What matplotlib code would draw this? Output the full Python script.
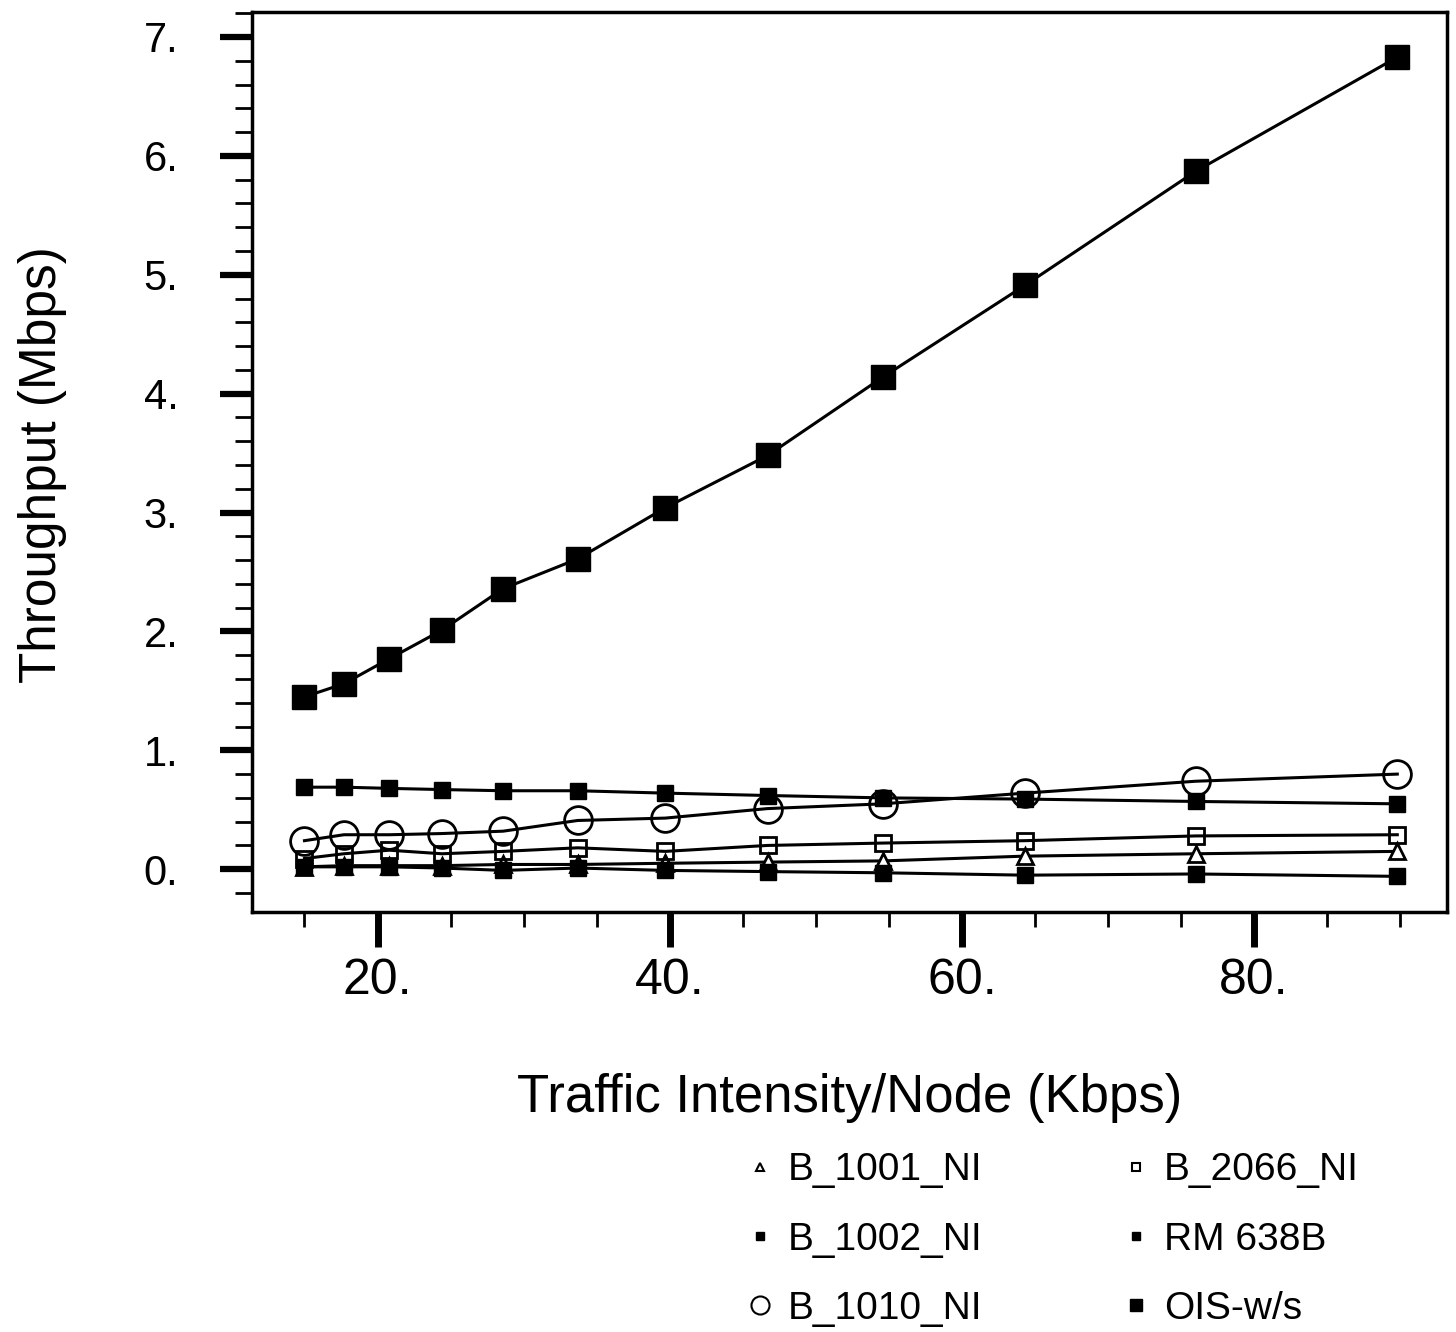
import matplotlib as mpl
mpl.use('Agg')
import matplotlib.pyplot as plt
from matplotlib.ticker import MultipleLocator, FuncFormatter
from matplotlib.lines import Line2D

plt.rcParams['font.family'] = ['Liberation Sans', 'DejaVu Sans']

# traffic intensity per node (Kbps)
traffic = [15.0, 17.7, 20.8, 24.4, 28.6, 33.7, 39.7, 46.7, 54.6, 64.3, 76.0, 89.8]

# throughput (Mbps) for each configuration
b_1001_ni = [0.02, 0.03, 0.03, 0.03, 0.04, 0.04, 0.05, 0.06, 0.07, 0.11, 0.13, 0.15]
b_2066_ni = [0.09, 0.13, 0.16, 0.13, 0.15, 0.18, 0.15, 0.20, 0.22, 0.24, 0.28, 0.29]
b_1002_ni = [0.02, 0.02, 0.02, 0.01, -0.01, 0.01, -0.01, -0.02, -0.03, -0.05, -0.04, -0.06]
rm_638b = [0.69, 0.69, 0.68, 0.67, 0.66, 0.66, 0.64, 0.62, 0.60, 0.59, 0.57, 0.55]
b_1010_ni = [0.24, 0.29, 0.29, 0.30, 0.32, 0.41, 0.43, 0.51, 0.55, 0.64, 0.74, 0.80]
ois_ws = [1.45, 1.56, 1.77, 2.01, 2.36, 2.61, 3.04, 3.48, 4.14, 4.91, 5.87, 6.83]

fig = plt.figure(figsize=(14.56, 13.32), dpi=100)
ax = fig.add_axes([0.173, 0.3153, 0.8208, 0.6757])

lw = 2.2
ax.plot(traffic, b_1001_ni, color='black', lw=lw, marker='^', ms=11,
        mfc='white', mec='black', mew=2)
ax.plot(traffic, b_2066_ni, color='black', lw=lw, marker='s', ms=11,
        fillstyle='none', mec='black', mew=2)
ax.plot(traffic, b_1002_ni, color='black', lw=lw, marker='s', ms=11,
        mfc='black', mec='black')
ax.plot(traffic, rm_638b, color='black', lw=lw, marker='s', ms=11,
        mfc='black', mec='black')
ax.plot(traffic, b_1010_ni, color='black', lw=lw, marker='o', ms=20,
        fillstyle='none', mec='black', mew=2)
ax.plot(traffic, ois_ws, color='black', lw=lw, marker='s', ms=17,
        mfc='black', mec='black')

ax.set_xlim(11.4, 93.2)
ax.set_ylim(-0.36, 7.21)

ax.set_xticks([20, 40, 60, 80])
ax.set_yticks(range(0, 8))
ax.xaxis.set_minor_locator(MultipleLocator(5))
ax.yaxis.set_minor_locator(MultipleLocator(0.2))
fmt = FuncFormatter(lambda v, p: '%d.' % round(v))
ax.xaxis.set_major_formatter(fmt)
ax.yaxis.set_major_formatter(fmt)

ax.tick_params(axis='x', which='major', direction='out', length=25, width=5,
               labelsize=36, pad=8)
ax.tick_params(axis='x', which='minor', direction='out', length=11, width=2)
ax.tick_params(axis='y', which='major', direction='out', length=23, width=4.5,
               labelsize=30, pad=30)
ax.tick_params(axis='y', which='minor', direction='out', length=12, width=2)

for s in ax.spines.values():
    s.set_linewidth(2.5)

ax.set_xlabel('Traffic Intensity/Node (Kbps)', fontsize=38, labelpad=50)
fig.text(0.029, 0.651, 'Throughput (Mbps)', rotation=90, fontsize=37,
         ha='center', va='center')

handles = [
    Line2D([], [], ls='none', marker='^', ms=6, mfc='white', mec='black', mew=1.5),
    Line2D([], [], ls='none', marker='s', ms=6, mfc='black', mec='black'),
    Line2D([], [], ls='none', marker='o', ms=13, fillstyle='none', mec='black', mew=1.5),
    Line2D([], [], ls='none', marker='s', ms=6, fillstyle='none', mec='black', mew=1.5),
    Line2D([], [], ls='none', marker='s', ms=6, mfc='black', mec='black'),
    Line2D([], [], ls='none', marker='s', ms=9, mfc='black', mec='black'),
]
labels = ['B_1001_NI', 'B_1002_NI', 'B_1010_NI', 'B_2066_NI', 'RM 638B', 'OIS-w/s']
fig.legend(handles, labels, loc='upper left', bbox_to_anchor=(0.512, 0.135),
           ncol=2, frameon=False, fontsize=28, handlelength=0.75,
           handletextpad=0.35, columnspacing=3.55, labelspacing=0.86,
           borderpad=0, borderaxespad=0)

fig.savefig('out.png', dpi=100)
